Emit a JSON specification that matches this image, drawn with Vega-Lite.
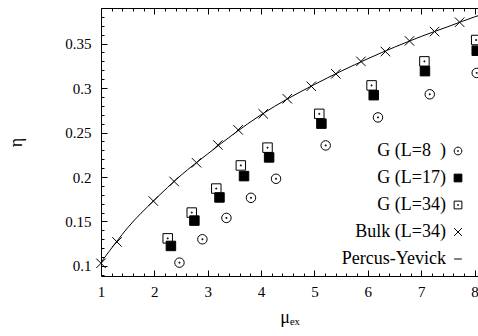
{
  "$schema": "https://vega.github.io/schema/vega-lite/v6.json",
  "width": 377,
  "height": 268,
  "autosize": "none",
  "padding": {"left": 101, "top": 8, "right": 0, "bottom": 60},
  "config": {
    "view": {"stroke": "black", "strokeWidth": 1},
    "font": "Liberation Serif",
    "axis": {"labelFont": "Liberation Serif", "labelFontSize": 15, "labelColor": "black", "tickColor": "black", "tickWidth": 1, "domain": false, "grid": false, "titleFont": "Liberation Serif", "titleFontWeight": "normal", "titleColor": "black", "labelFlush": false, "labelOverlap": false},
    "legend": {"labelFont": "Liberation Serif", "labelFontSize": 18, "labelColor": "black"}
  },
  "datasets": {
    "py": [
      {"mu": 1.0, "eta": 0.104}, {"mu": 1.3, "eta": 0.128}, {"mu": 1.5, "eta": 0.143},
      {"mu": 2.0, "eta": 0.174}, {"mu": 2.5, "eta": 0.202}, {"mu": 3.0, "eta": 0.226},
      {"mu": 3.5, "eta": 0.249}, {"mu": 4.0, "eta": 0.270}, {"mu": 4.5, "eta": 0.288},
      {"mu": 5.0, "eta": 0.304}, {"mu": 5.5, "eta": 0.319}, {"mu": 6.0, "eta": 0.333},
      {"mu": 6.5, "eta": 0.346}, {"mu": 7.0, "eta": 0.358}, {"mu": 7.5, "eta": 0.369},
      {"mu": 8.0, "eta": 0.380}, {"mu": 8.3, "eta": 0.386}
    ],
    "pts": [
      {"series": "G (L=8\u00a0\u00a0)", "mu": 2.47, "eta": 0.1037},
      {"series": "G (L=8\u00a0\u00a0)", "mu": 2.90, "eta": 0.130},
      {"series": "G (L=8\u00a0\u00a0)", "mu": 3.35, "eta": 0.154},
      {"series": "G (L=8\u00a0\u00a0)", "mu": 3.81, "eta": 0.1766},
      {"series": "G (L=8\u00a0\u00a0)", "mu": 4.28, "eta": 0.198},
      {"series": "G (L=8\u00a0\u00a0)", "mu": 5.21, "eta": 0.2355},
      {"series": "G (L=8\u00a0\u00a0)", "mu": 6.19, "eta": 0.267},
      {"series": "G (L=8\u00a0\u00a0)", "mu": 7.16, "eta": 0.293},
      {"series": "G (L=8\u00a0\u00a0)", "mu": 8.04, "eta": 0.317},
      {"series": "G (L=17)", "mu": 2.31, "eta": 0.1225},
      {"series": "G (L=17)", "mu": 2.75, "eta": 0.151},
      {"series": "G (L=17)", "mu": 3.22, "eta": 0.177},
      {"series": "G (L=17)", "mu": 3.68, "eta": 0.201},
      {"series": "G (L=17)", "mu": 4.15, "eta": 0.222},
      {"series": "G (L=17)", "mu": 5.13, "eta": 0.260},
      {"series": "G (L=17)", "mu": 6.11, "eta": 0.292},
      {"series": "G (L=17)", "mu": 7.07, "eta": 0.319},
      {"series": "G (L=17)", "mu": 8.04, "eta": 0.342},
      {"series": "G (L=34)", "mu": 2.25, "eta": 0.131},
      {"series": "G (L=34)", "mu": 2.70, "eta": 0.160},
      {"series": "G (L=34)", "mu": 3.16, "eta": 0.187},
      {"series": "G (L=34)", "mu": 3.62, "eta": 0.213},
      {"series": "G (L=34)", "mu": 4.12, "eta": 0.233},
      {"series": "G (L=34)", "mu": 5.09, "eta": 0.271},
      {"series": "G (L=34)", "mu": 6.07, "eta": 0.303},
      {"series": "G (L=34)", "mu": 7.06, "eta": 0.330},
      {"series": "G (L=34)", "mu": 8.03, "eta": 0.354},
      {"series": "Bulk (L=34)", "mu": 1.0, "eta": 0.103},
      {"series": "Bulk (L=34)", "mu": 1.30, "eta": 0.127},
      {"series": "Bulk (L=34)", "mu": 1.98, "eta": 0.173},
      {"series": "Bulk (L=34)", "mu": 2.37, "eta": 0.195},
      {"series": "Bulk (L=34)", "mu": 2.79, "eta": 0.216},
      {"series": "Bulk (L=34)", "mu": 3.19, "eta": 0.236},
      {"series": "Bulk (L=34)", "mu": 3.57, "eta": 0.253},
      {"series": "Bulk (L=34)", "mu": 4.04, "eta": 0.271},
      {"series": "Bulk (L=34)", "mu": 4.49, "eta": 0.288},
      {"series": "Bulk (L=34)", "mu": 4.94, "eta": 0.302},
      {"series": "Bulk (L=34)", "mu": 5.40, "eta": 0.316},
      {"series": "Bulk (L=34)", "mu": 5.87, "eta": 0.330},
      {"series": "Bulk (L=34)", "mu": 6.33, "eta": 0.341},
      {"series": "Bulk (L=34)", "mu": 6.78, "eta": 0.353},
      {"series": "Bulk (L=34)", "mu": 7.25, "eta": 0.3635},
      {"series": "Bulk (L=34)", "mu": 7.72, "eta": 0.374}
    ]
  },
  "layer": [
    {
      "data": {"name": "py"},
      "mark": {"type": "line", "color": "black", "strokeWidth": 1, "interpolate": "monotone"},
      "encoding": {
        "x": {
          "field": "mu", "type": "quantitative",
          "scale": {"domain": [1, 8.064], "nice": false, "zero": false},
          "axis": {
            "orient": "bottom",
            "values": [1,1.2,1.4,1.6,1.8,2,2.2,2.4,2.6,2.8,3,3.2,3.4,3.6,3.8,4,4.2,4.4,4.6,4.8,5,5.2,5.4,5.6,5.8,6,6.2,6.4,6.6,6.8,7,7.2,7.4,7.6,7.8,8],
            "labelExpr": "abs(datum.value - round(datum.value)) < 0.01 ? format(datum.value, 'd') : ''",
            "tickSize": {"condition": {"test": "abs(datum.value - round(datum.value)) < 0.01", "value": -6}, "value": -3},
            "labelPadding": 14,
            "title": "μₑₓ", "titleFontSize": 18, "titlePadding": 6
          }
        },
        "y": {
          "field": "eta", "type": "quantitative",
          "scale": {"domain": [0.0887, 0.390], "nice": false, "zero": false},
          "axis": {
            "orient": "left",
            "values": [0.09,0.1,0.11,0.12,0.13,0.14,0.15,0.16,0.17,0.18,0.19,0.2,0.21,0.22,0.23,0.24,0.25,0.26,0.27,0.28,0.29,0.3,0.31,0.32,0.33,0.34,0.35,0.36,0.37,0.38],
            "labelExpr": "abs(datum.value*20 - round(datum.value*20)) < 0.01 ? format(datum.value, '~g') : ''",
            "tickSize": {"condition": {"test": "abs(datum.value*20 - round(datum.value*20)) < 0.01", "value": -6}, "value": -3},
            "labelPadding": 16,
            "title": "η", "titleFontSize": 18, "titlePadding": 39
          }
        }
      }
    },
    {
      "data": {"name": "pts"},
      "mark": {"type": "point", "filled": true, "stroke": "black", "strokeWidth": 1, "opacity": 1},
      "encoding": {
        "x": {
          "field": "mu", "type": "quantitative",
          "scale": {"domain": [1, 8.064], "nice": false, "zero": false},
          "axis": {
            "orient": "top",
            "values": [1,1.2,1.4,1.6,1.8,2,2.2,2.4,2.6,2.8,3,3.2,3.4,3.6,3.8,4,4.2,4.4,4.6,4.8,5,5.2,5.4,5.6,5.8,6,6.2,6.4,6.6,6.8,7,7.2,7.4,7.6,7.8,8],
            "labels": false,
            "tickSize": {"condition": {"test": "abs(datum.value - round(datum.value)) < 0.01", "value": -6}, "value": -3},
            "title": null
          }
        },
        "y": {"field": "eta", "type": "quantitative", "scale": {"domain": [0.0887, 0.390], "nice": false, "zero": false}, "axis": null},
        "shape": {
          "field": "series", "type": "nominal",
          "scale": {
            "domain": ["G (L=8\u00a0\u00a0)", "G (L=17)", "G (L=34)", "Bulk (L=34)", "Percus-Yevick"],
            "range": [
              "M-1,0A1,1,0,1,1,1,0A1,1,0,1,1,-1,0Z M-0.1,-0.1h0.2v0.2h-0.2Z",
              "square",
              "M-1,-1H1V1H-1Z M-0.1,-0.1h0.2v0.2h-0.2Z",
              "M-1,-1L1,1M-1,1L1,-1",
              "M-1,0H1"
            ]
          },
          "legend": {
            "title": null, "orient": "none", "legendX": 348, "legendY": 134,
            "labelAlign": "right", "labelOffset": -21, "rowPadding": 9, "symbolSize": 60, "symbolStrokeWidth": 1,
            "labelFontSize": 18, "labelFont": "Liberation Serif", "labelColor": "black", "labelLimit": 200
          }
        },
        "fill": {
          "field": "series", "type": "nominal",
          "scale": {
            "domain": ["G (L=8\u00a0\u00a0)", "G (L=17)", "G (L=34)", "Bulk (L=34)", "Percus-Yevick"],
            "range": ["transparent", "black", "transparent", "transparent", "transparent"]
          },
          "legend": {
            "title": null, "orient": "none", "legendX": 348, "legendY": 134,
            "labelAlign": "right", "labelOffset": -21, "rowPadding": 9, "symbolSize": 60, "symbolStrokeWidth": 1,
            "labelFontSize": 18, "labelFont": "Liberation Serif", "labelColor": "black", "labelLimit": 200
          }
        },
        "size": {"value": 90}
      }
    }
  ],
  "resolve": {"axis": {"x": "independent", "y": "independent"}}
}
